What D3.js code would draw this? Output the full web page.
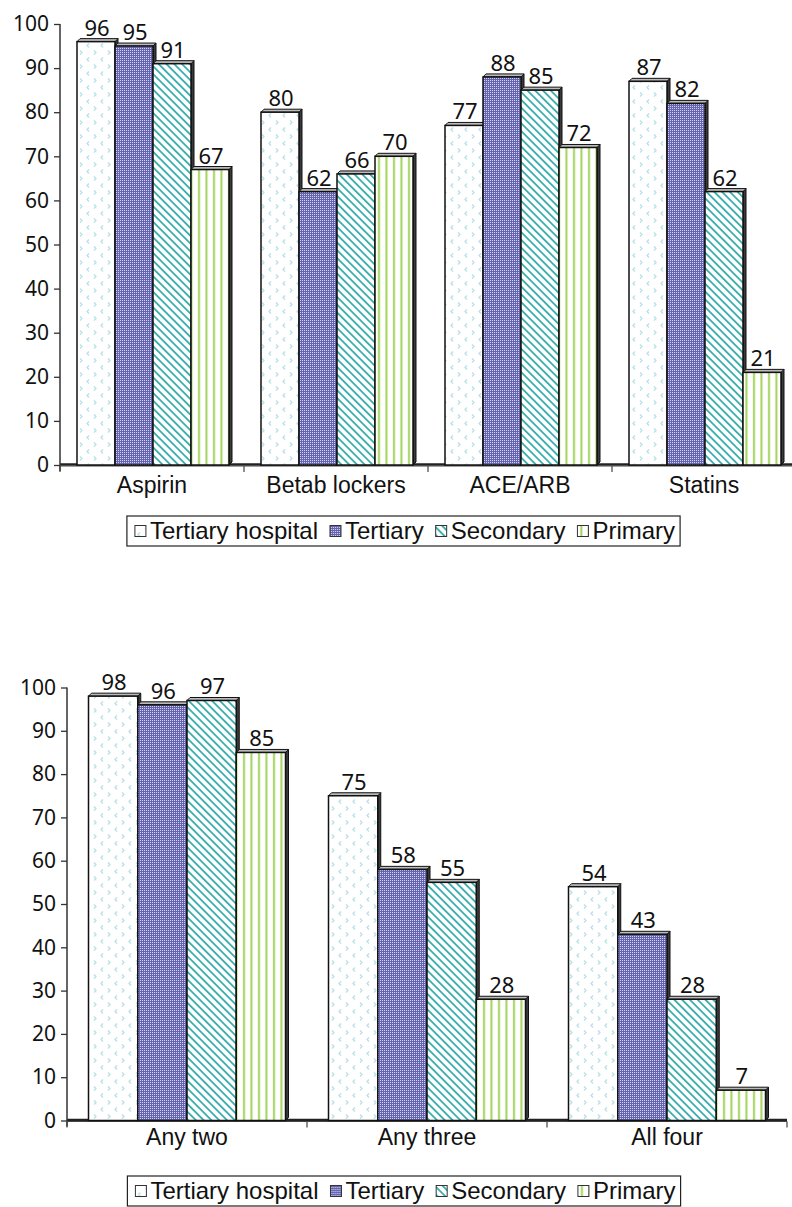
<!DOCTYPE html>
<html><head><meta charset="utf-8">
<script src="https://cdn.jsdelivr.net/npm/d3@7"></script>
<style>body{margin:0;background:#fff}</style>
</head><body><svg id="c" width="792" height="1207"></svg>
<script>
const seriesNames = ["Tertiary hospital", "Tertiary", "Secondary", "Primary"];
const topCategories = ["Aspirin", "Betab lockers", "ACE/ARB", "Statins"];
const topValues = [[96, 95, 91, 67], [80, 62, 66, 70], [77, 88, 85, 72], [87, 82, 62, 21]];
const bottomCategories = ["Any two", "Any three", "All four"];
const bottomValues = [[98, 96, 97, 85], [75, 58, 55, 28], [54, 43, 28, 7]];
const yTicks = [0, 10, 20, 30, 40, 50, 60, 70, 80, 90, 100];

const svg = d3.select("#c");
const defs = svg.append("defs");

// pattern 0: white with light cyan chevrons
const p0 = defs.append("pattern").attr("id", "p0").attr("patternUnits", "userSpaceOnUse").attr("width", 14).attr("height", 14);
p0.append("rect").attr("width", 14).attr("height", 14).attr("fill", "#fff");
p0.append("path").attr("d", "M5,1.5 L3,3.5 L5,5.5").attr("fill", "none").attr("stroke", "#b3e1e7").attr("stroke-width", 1.2);
p0.append("path").attr("d", "M10,8.5 L12,10.5 L10,12.5").attr("fill", "none").attr("stroke", "#b3e1e7").attr("stroke-width", 1.2);
// pattern 1: blue checker
const p1 = defs.append("pattern").attr("id", "p1").attr("patternUnits", "userSpaceOnUse").attr("width", 2).attr("height", 2);
p1.append("rect").attr("width", 2).attr("height", 2).attr("fill", "#6464b0");
p1.append("rect").attr("width", 1).attr("height", 1).attr("fill", "#d4d4f2");
// pattern 2: teal diagonal stripes
const p2 = defs.append("pattern").attr("id", "p2").attr("patternUnits", "userSpaceOnUse").attr("width", 5.5).attr("height", 5.5).attr("patternTransform", "rotate(-45)");
p2.append("rect").attr("width", 5.5).attr("height", 5.5).attr("fill", "#fff");
p2.append("rect").attr("x", 0).attr("width", 1.8).attr("height", 5.5).attr("fill", "#3aaeae");
// pattern 3: green vertical stripes
const p3 = defs.append("pattern").attr("id", "p3").attr("patternUnits", "userSpaceOnUse").attr("width", 7.5).attr("height", 10);
p3.append("rect").attr("width", 7.5).attr("height", 10).attr("fill", "#fff");
p3.append("rect").attr("x", 3).attr("width", 2).attr("height", 10).attr("fill", "#a3d35a");

const fills = ["url(#p0)", "url(#p1)", "url(#p2)", "url(#p3)"];
const numFont = "'Noto Sans', sans-serif";
const txtFont = "'Liberation Sans', Arial, sans-serif";

function chart(cfg) {
  const g = svg.append("g");
  const y = d3.scaleLinear().domain([0, 100]).range([cfg.y0, cfg.y100]);
  const x = d3.scaleBand().domain(cfg.categories).range([cfg.axisX, cfg.xEnd]).padding(0);
  const xi = d3.scaleBand().domain(seriesNames).range(cfg.inner).padding(0);
  const d = 3;

  // floor line
  g.append("line").attr("x1", cfg.axisX).attr("x2", cfg.xEnd).attr("y1", y(0) - 0.5).attr("y2", y(0) - 0.5)
    .attr("stroke", "#222").attr("stroke-width", 2.5);

  // y axis
  const yAxis = d3.axisLeft(y).tickValues(yTicks).tickSize(6).tickPadding(5).tickSizeOuter(0);
  const ya = g.append("g").attr("transform", `translate(${cfg.axisX},0)`).call(yAxis);
  ya.select(".domain").attr("stroke", "#333").attr("stroke-width", 1.5).attr("d", `M0,${y(100)}V${y(0) + 6}`);
  ya.selectAll(".tick line").attr("stroke", "#333").attr("stroke-width", 1.3);
  ya.selectAll(".tick text").attr("font-family", numFont).attr("font-size", 21).attr("fill", "#111");

  // x axis
  const xa = g.append("g").attr("transform", `translate(0,${y(0) + 1})`);
  xa.append("line").attr("x1", cfg.axisX).attr("x2", cfg.xEnd).attr("stroke", "#444").attr("stroke-width", 1.2);
  const bounds = cfg.categories.map(c => x(c)).concat([cfg.xEnd]);
  xa.selectAll("line.tk").data(bounds).enter().append("line").attr("class", "tk")
    .attr("x1", v => v).attr("x2", v => v).attr("y1", 0).attr("y2", 6).attr("stroke", "#444").attr("stroke-width", 1.2);
  xa.selectAll("text").data(cfg.categories).enter().append("text")
    .attr("x", c => x(c) + x.bandwidth() / 2).attr("y", cfg.catY - y(0) - 1)
    .attr("text-anchor", "middle").attr("font-family", txtFont).attr("font-size", cfg.catSize).attr("fill", "#111")
    .text(c => c);

  // bars
  cfg.categories.forEach((c, ci) => {
    seriesNames.forEach((s, si) => {
      const v = cfg.values[ci][si];
      const bx = x(c) + xi(s), bw = xi.bandwidth(), by = y(v), b0 = y(0);
      const bg = g.append("g");
      bg.append("path").attr("d", `M${bx + bw},${by}L${bx + bw + d},${by - d}L${bx + bw + d},${b0 - d}L${bx + bw},${b0}Z`)
        .attr("fill", "#3a3a3a").attr("stroke", "#111").attr("stroke-width", 1);
      bg.append("path").attr("d", `M${bx},${by}L${bx + d},${by - d}L${bx + bw + d},${by - d}L${bx + bw},${by}Z`)
        .attr("fill", "#bbb").attr("stroke", "#111").attr("stroke-width", 1);
      bg.append("rect").attr("x", bx).attr("y", by).attr("width", bw).attr("height", b0 - by)
        .attr("fill", fills[si]).attr("stroke", "#111").attr("stroke-width", 1.5);
      bg.append("text").attr("x", bx + bw / 2 + 1).attr("y", by - 6).attr("text-anchor", "middle")
        .attr("font-family", numFont).attr("font-size", 22).attr("fill", "#111").text(v);
    });
  });

  // legend
  const lg = g.append("g");
  let cx = 0;
  seriesNames.forEach((s, si) => {
    lg.append("rect").attr("x", cx).attr("y", -5.5).attr("width", 11).attr("height", 11)
      .attr("fill", fills[si]).attr("stroke", "#333").attr("stroke-width", 1);
    cx += 15;
    const t = lg.append("text").attr("x", cx).attr("y", 0).attr("dy", "0.35em")
      .attr("font-family", txtFont).attr("font-size", cfg.legSize).attr("fill", "#111").text(s);
    cx += t.node().getComputedTextLength() + 12;
  });
  const totalW = cx - 12;
  const left = cfg.legCx - totalW / 2;
  lg.attr("transform", `translate(${left},${cfg.legY})`);
  g.append("rect").attr("x", left - 8).attr("y", cfg.legY - 15).attr("width", totalW + 13).attr("height", 30)
    .attr("fill", "none").attr("stroke", "#222").attr("stroke-width", 1.2);
}

chart({categories: topCategories, values: topValues, axisX: 60, xEnd: 796, y0: 465, y100: 24,
  inner: [17, 169], catY: 493, catSize: 23, legY: 531, legCx: 405, legSize: 24});
chart({categories: bottomCategories, values: bottomValues, axisX: 67, xEnd: 787, y0: 1120.5, y100: 687.5,
  inner: [21.5, 218.5], catY: 1145, catSize: 23, legY: 1191, legCx: 405.5, legSize: 24});
</script></body></html>
